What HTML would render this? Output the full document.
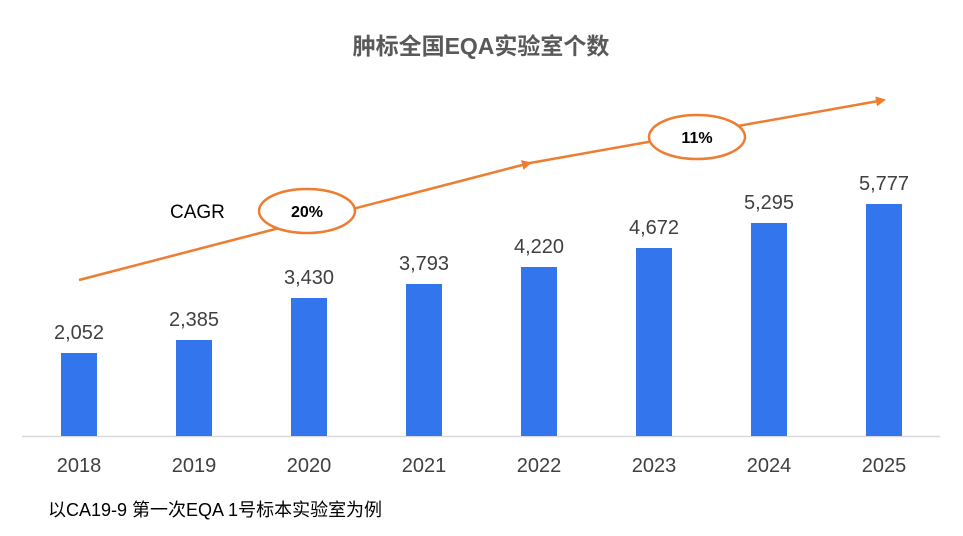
<!DOCTYPE html>
<html><head><meta charset="utf-8"><style>
body{margin:0;background:#fff;}
svg{display:block;}
text{font-family:"Liberation Sans","Noto Sans CJK SC",sans-serif;}
</style></head><body>
<svg width="963" height="536" viewBox="0 0 963 536">
<defs><marker id="ar" markerWidth="10" markerHeight="10" refX="8" refY="5" orient="auto" markerUnits="userSpaceOnUse"><path d="M0,0 L10,5 L0,10 z" fill="#ED7D31"/></marker></defs>
<text x="481" y="54" text-anchor="middle" font-size="23" font-weight="bold" fill="#595959">肿标全国EQA实验室个数</text>
<line x1="22" y1="436.5" x2="940" y2="436.5" stroke="#d9d9d9" stroke-width="1.5"/>
<g fill="#3375EC">
<rect x="61" y="353" width="36" height="83"/>
<rect x="176" y="340" width="36" height="96"/>
<rect x="291" y="298" width="36" height="138"/>
<rect x="406" y="284" width="36" height="152"/>
<rect x="521" y="267" width="36" height="169"/>
<rect x="636" y="248" width="36" height="188"/>
<rect x="751" y="223" width="36" height="213"/>
<rect x="866" y="204" width="36" height="232"/>
</g>
<g font-size="20" fill="#404040" text-anchor="middle">
<text x="79" y="339">2,052</text><text x="194" y="326">2,385</text><text x="309" y="284">3,430</text><text x="424" y="270">3,793</text>
<text x="539" y="253">4,220</text><text x="654" y="234">4,672</text><text x="769" y="209">5,295</text><text x="884" y="190">5,777</text>
<text x="79" y="472">2018</text><text x="194" y="472">2019</text><text x="309" y="472">2020</text><text x="424" y="472">2021</text>
<text x="539" y="472">2022</text><text x="654" y="472">2023</text><text x="769" y="472">2024</text><text x="884" y="472">2025</text>
</g>
<g stroke="#ED7D31" stroke-width="2.5" fill="none">
<line x1="79" y1="280" x2="530" y2="163" marker-end="url(#ar)"/>
<line x1="530" y1="163" x2="884" y2="100" marker-end="url(#ar)"/>
<ellipse cx="307" cy="211" rx="48" ry="22" fill="#fff"/>
<ellipse cx="697" cy="137" rx="48" ry="22" fill="#fff"/>
</g>
<text x="307" y="217" text-anchor="middle" font-size="16" font-weight="bold" fill="#000">20%</text>
<text x="697" y="143" text-anchor="middle" font-size="16" font-weight="bold" fill="#000">11%</text>
<text x="170" y="218" font-size="19" fill="#000">CAGR</text>
<text x="48" y="516" font-size="18" fill="#000">以CA19-9 第一次EQA 1号标本实验室为例</text>
</svg>
</body></html>
